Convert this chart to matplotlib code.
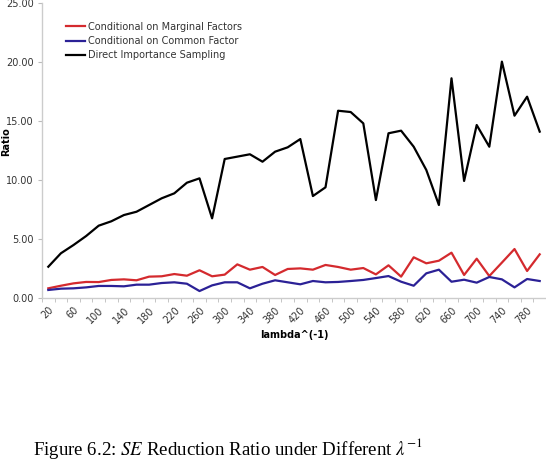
import numpy as np
import matplotlib
matplotlib.use("Agg")
import matplotlib.pyplot as plt
from matplotlib.ticker import FixedLocator, NullFormatter

# lambda^(-1) values: 20, 40, ..., 800
lambdas = list(range(20, 801, 20))

marginal = [0.82, 1.04, 1.24, 1.36, 1.35, 1.53, 1.58, 1.50, 1.81, 1.84,
            2.03, 1.89, 2.35, 1.84, 1.98, 2.85, 2.40, 2.63, 1.95, 2.46,
            2.51, 2.40, 2.80, 2.63, 2.40, 2.54, 2.00, 2.77, 1.81, 3.45,
            2.94, 3.16, 3.84, 1.95, 3.33, 1.86, 3.00, 4.15, 2.29, 3.70]

common = [0.68, 0.79, 0.82, 0.90, 1.02, 1.02, 0.99, 1.13, 1.13, 1.27,
          1.33, 1.21, 0.59, 1.07, 1.33, 1.33, 0.82, 1.21, 1.50, 1.33,
          1.16, 1.44, 1.33, 1.36, 1.44, 1.53, 1.69, 1.86, 1.38, 1.04,
          2.09, 2.40, 1.38, 1.55, 1.30, 1.78, 1.58, 0.90, 1.61, 1.44]

direct = [2.65, 3.79, 4.49, 5.25, 6.13, 6.50, 7.03, 7.31, 7.88, 8.45,
          8.87, 9.77, 10.14, 6.75, 11.78, 11.98, 12.18, 11.55, 12.40, 12.77,
          13.47, 8.64, 9.38, 15.87, 15.76, 14.80, 8.30, 13.96, 14.18, 12.82,
          10.85, 7.88, 18.62, 9.92, 14.66, 12.82, 20.03, 15.45, 17.06, 14.10]

y_ticks = [0, 5, 10, 15, 20, 25]

fig = plt.figure(figsize=(5.46, 4.75), dpi=100)
ax = fig.add_axes([42 / 546, 1 - 298 / 475, 1 - 42 / 546, 295 / 475])

x = np.arange(len(lambdas))
ax.plot(x, marginal, color='#d42a2e', lw=1.6, label='Conditional on Marginal Factors')
ax.plot(x, common, color='#2b2196', lw=1.6, label='Conditional on Common Factor')
ax.plot(x, direct, color='black', lw=1.6, label='Direct Importance Sampling')

ax.set_xlim(-0.5, len(lambdas) - 0.5)
ax.set_ylim(0, 25)

# category axis: ticks on boundaries, labels on every other category
ax.xaxis.set_major_locator(FixedLocator(x[::2]))
ax.set_xticklabels([str(v) for v in lambdas[::2]], rotation=45, ha='right',
                   rotation_mode='anchor', fontsize=7, color='#333333')
ax.tick_params(axis='x', which='major', length=0, pad=5)
ax.xaxis.set_minor_locator(FixedLocator(np.arange(-0.5, len(lambdas), 1)))
ax.xaxis.set_minor_formatter(NullFormatter())
ax.tick_params(axis='x', which='minor', length=3, color='#bbbbbb', direction='out')

ax.set_yticks(y_ticks)
ax.set_yticklabels(['%.2f' % v for v in y_ticks], fontsize=7, color='#333333')
ax.tick_params(axis='y', length=3, color='#bbbbbb', direction='out', pad=3)

for side in ['top', 'right']:
    ax.spines[side].set_visible(False)
for side in ['left', 'bottom']:
    ax.spines[side].set_color('#cccccc')
    ax.spines[side].set_linewidth(1.0)

ax.set_xlabel('lambda^(-1)', fontsize=7, fontweight='bold')
ax.xaxis.set_label_coords(0.5, -0.11)
ax.set_ylabel('Ratio', fontsize=7, fontweight='bold', va='center')
ax.yaxis.set_label_coords(-36 / 504, 0.53)

leg = ax.legend(loc='upper left', bbox_to_anchor=(0.04, 0.95), frameon=False,
                fontsize=7, handlelength=2.0, handletextpad=0.3,
                labelspacing=0.45, borderaxespad=0)
for t in leg.get_texts():
    t.set_color('#333333')

plt.rcParams['mathtext.fontset'] = 'stix'
fig.text(33 / 546, 1 - 455 / 475,
         r'Figure 6.2: $SE$ Reduction Ratio under Different $\lambda^{-1}$',
         fontsize=13.6, family='Liberation Serif', va='baseline', ha='left')

fig.savefig('out.png', dpi=100)
